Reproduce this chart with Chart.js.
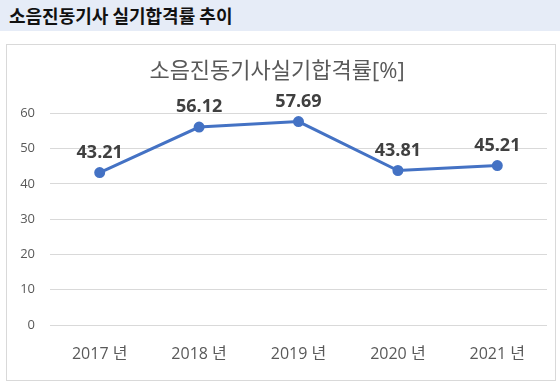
<!DOCTYPE html>
<html>
<head>
<meta charset="utf-8">
<script src="https://cdn.jsdelivr.net/npm/chart.js@4/dist/chart.umd.min.js"></script>
<style>
    body { margin: 0; width: 560px; height: 389px; background: #fff; position: relative; overflow: hidden; }
    .header {
        position: absolute; left: 0; top: 0; width: 560px; height: 31px;
        background: #e6ecf7;
        font-family: 'Noto Sans CJK KR', sans-serif; font-weight: bold; font-size: 18px;
        color: #111; line-height: 31px; padding-left: 9px; box-sizing: border-box;
    }
    .chart-box {
        position: absolute; left: 6px; top: 44px; width: 548px; height: 335px;
        border: 1px solid #d9d9d9;
    }
</style>
</head>
<body>
<div class="header">소음진동기사 실기합격률 추이</div>
<div class="chart-box"><canvas id="passRateChart" width="548" height="335"></canvas></div>
<script>
// Pass-rate trend data
const years = ['2017 년', '2018 년', '2019 년', '2020 년', '2021 년'];
const passRates = [43.21, 56.12, 57.69, 43.81, 45.21];
const yTicks = [0, 10, 20, 30, 40, 50, 60];

const FONT = "'Open Sans', 'Noto Sans CJK KR', sans-serif";

// Draw value labels above each point
const valueLabels = {
    id: 'valueLabels',
    afterDatasetsDraw(chart) {
        const ctx = chart.ctx;
        const meta = chart.getDatasetMeta(0);
        ctx.save();
        ctx.font = 'bold 18px ' + FONT;
        ctx.fillStyle = '#404040';
        ctx.textAlign = 'center';
        ctx.textBaseline = 'middle';
        meta.data.forEach((pt, i) => {
            ctx.fillText(passRates[i].toFixed(2), pt.x, pt.y - 20);
        });
        ctx.restore();
    }
};

const ctx = document.getElementById('passRateChart').getContext('2d');
new Chart(ctx, {
    type: 'line',
    data: {
        labels: years,
        datasets: [{
            data: passRates,
            borderColor: '#4472C4',
            backgroundColor: '#4472C4',
            borderWidth: 3,
            pointRadius: 4,
            pointBackgroundColor: '#4472C4',
            pointBorderColor: '#4472C4',
            tension: 0
        }]
    },
    options: {
        responsive: false,
        animation: false,
        layout: { padding: { left: 0, right: 8, top: 0, bottom: 0 } },
        plugins: {
            legend: { display: false },
            tooltip: { enabled: false },
            title: {
                display: true,
                text: '소음진동기사실기합격률[%]',
                color: '#595959',
                font: { family: FONT, size: 22, weight: 'normal', lineHeight: 1.2 },
                padding: { top: 14, bottom: 28 }
            }
        },
        scales: {
            x: {
                offset: true,
                afterFit(axis) { axis.height = 55; },
                grid: { display: false, drawTicks: false },
                border: { display: false },
                ticks: { color: '#595959', font: { family: FONT, size: 16 }, padding: 20 }
            },
            y: {
                min: 0,
                max: 60,
                afterFit(axis) { axis.width = 43; },
                afterBuildTicks(axis) { axis.ticks = yTicks.map(v => ({ value: v })); },
                grid: { color: '#d9d9d9', lineWidth: 1, drawTicks: false },
                border: { display: false },
                ticks: { color: '#595959', font: { family: FONT, size: 13 }, padding: 15 }
            }
        }
    },
    plugins: [valueLabels]
});
</script>
</body>
</html>
